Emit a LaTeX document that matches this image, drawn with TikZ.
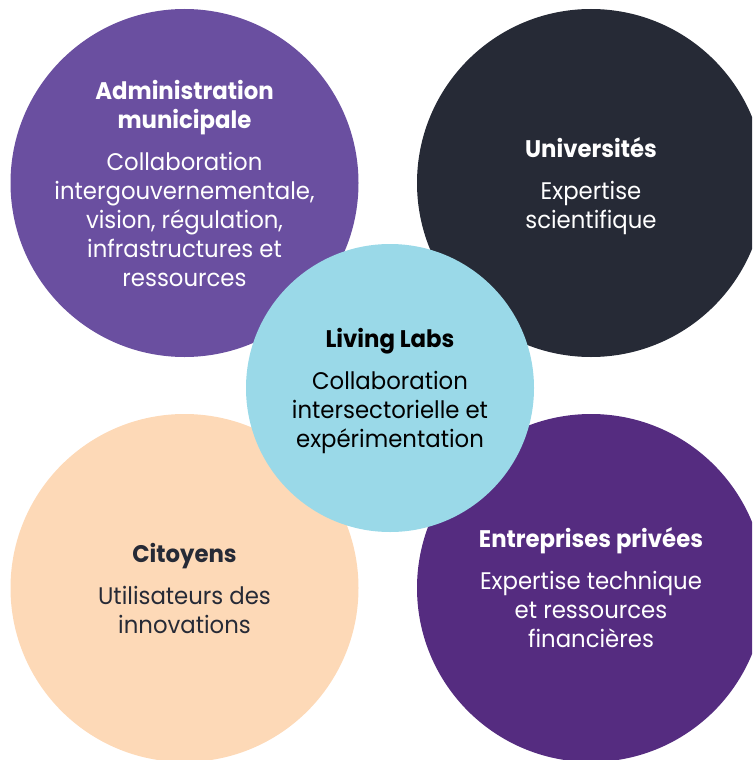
\documentclass[tikz,border=0pt]{standalone}
\usepackage{fontspec}
\setmainfont{Poppins}[FakeStretch=0.95]
\definecolor{admin}{HTML}{6A4FA0}
\definecolor{univ}{HTML}{262A36}
\definecolor{citoy}{HTML}{FDD9B7}
\definecolor{entre}{HTML}{552C80}
\definecolor{lab}{HTML}{9AD9E8}
\begin{document}
\begin{tikzpicture}[x=1pt,y=-1pt,
    disc/.style={circle,minimum size=348pt,inner sep=0pt},
    txt/.style={align=center,inner sep=0pt,font=\fontsize{24}{29}\selectfont}]
  \useasboundingbox (0,0) rectangle (752,760);
  \clip (0,0) rectangle (752,760);
  \node[disc,fill=admin] (admin) at (184.5,183) {};
  \node[disc,fill=univ] (univ) at (591,183) {};
  \node[disc,fill=citoy] (citoy) at (184.5,588) {};
  \node[disc,fill=entre] (entre) at (591,588) {};
  \node[disc,minimum size=288pt,fill=lab] (lab) at (390,388) {};
  \node[txt,white] (admintxt) at (admin) {\textbf{Administration}\\\textbf{municipale}\\[13pt]Collaboration\\intergouvernementale,\\vision, régulation,\\infrastructures et\\ressources};
  \node[txt,white,yshift=-3pt] (univtxt) at (univ) {\textbf{Universités}\\[13pt]Expertise\\scientifique};
  \node[txt,black,yshift=-3pt] (labtxt) at (lab) {\textbf{Living Labs}\\[13pt]Collaboration\\intersectorielle et\\expérimentation};
  \node[txt,univ] (citoytxt) at (citoy) {\textbf{Citoyens}\\[13pt]Utilisateurs des\\innovations};
  \node[txt,white] (entretxt) at (entre) {\textbf{Entreprises privées}\\[13pt]Expertise technique\\et ressources\\financières};
\end{tikzpicture}
\end{document}
